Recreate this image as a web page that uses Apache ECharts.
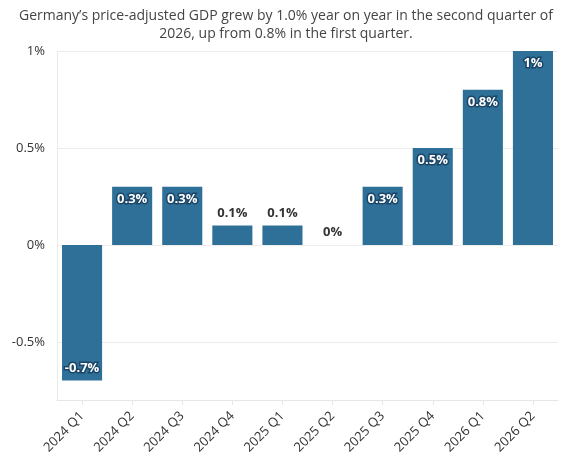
<!DOCTYPE html>
<html>
<head>
<meta charset="utf-8">
<script src="https://cdn.jsdelivr.net/npm/echarts@6/dist/echarts.min.js"></script>
<style>
  html, body { margin: 0; padding: 0; background: #fff; }
  #main { width: 572px; height: 460px; }
</style>
</head>
<body>
<div id="main"></div>
<script>
// quarters and year-on-year change of price-adjusted GDP (%)
var quarters = ['2024 Q1', '2024 Q2', '2024 Q3', '2024 Q4', '2025 Q1',
                '2025 Q2', '2025 Q3', '2025 Q4', '2026 Q1', '2026 Q2'];
var growth = [-0.7, 0.3, 0.3, 0.1, 0.1, 0, 0.3, 0.5, 0.8, 1];
var yTicks = [-0.5, 0, 0.5, 1];

var titleText = 'Germany\u2019s price-adjusted GDP grew by 1.0% year on year in the second quarter of\n2026, up from 0.8% in the first quarter.';

function labelFor(v) {
    var txt = v + '%';
    if (v < 0) {
        return { show: true, position: 'insideBottom', color: '#fff', textBorderColor: '#1a4566',
                 textBorderWidth: 3, fontWeight: 'bold', formatter: txt, distance: 6 };
    }
    if (v < 0.2) {
        return { show: true, position: 'top', color: '#333', fontWeight: 'bold', formatter: txt, distance: 6 };
    }
    return { show: true, position: 'insideTop', color: '#fff', textBorderColor: '#1a4566',
             textBorderWidth: 3, fontWeight: 'bold', formatter: txt, distance: 6 };
}

var barData = growth.map(function (v) {
    return { value: v, label: labelFor(v) };
});

var chart = echarts.init(document.getElementById('main'));
chart.setOption({
    animation: false,
    textStyle: { fontFamily: 'Open Sans' },
    title: {
        text: titleText,
        left: 'center',
        top: 2,
        textStyle: { fontSize: 14, fontWeight: 'normal', color: '#444', lineHeight: 18, fontFamily: 'Open Sans' }
    },
    grid: { left: 57, right: 14, top: 51, bottom: 60, containLabel: false },
    xAxis: {
        type: 'category',
        data: quarters,
        axisLine: { onZero: false, lineStyle: { color: '#e6e6e6' } },
        axisTick: { show: true, alignWithLabel: true, length: 5, lineStyle: { color: '#e6e6e6' } },
        axisLabel: { rotate: 45, fontSize: 13, color: '#333', margin: 14 }
    },
    yAxis: {
        type: 'value',
        min: -0.8,
        max: 1,
        axisLine: { show: true, lineStyle: { color: '#ebebeb' } },
        axisTick: { show: false, customValues: yTicks },
        axisLabel: {
            customValues: yTicks,
            fontSize: 13,
            color: '#333',
            margin: 12,
            formatter: function (v) { return v + '%'; }
        },
        splitLine: { show: true, lineStyle: { color: '#ececec' } }
    },
    series: [{
        type: 'bar',
        data: barData,
        barCategoryGap: '20%',
        itemStyle: { color: '#2f7099' },
        labelLayout: { hideOverlap: false },
        label: { fontSize: 13 }
    }]
});
</script>
</body>
</html>
